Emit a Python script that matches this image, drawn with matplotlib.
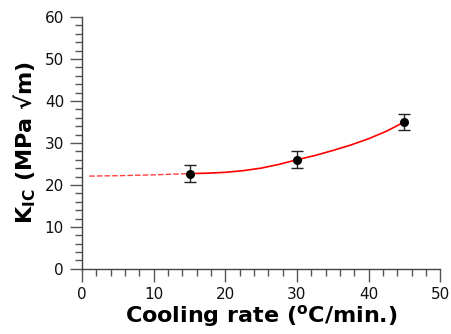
import numpy as np
import matplotlib.pyplot as plt

# measured points
rate = np.array([15, 30, 45])
kic = np.array([22.7, 26.0, 35.0])
kic_err = np.array([2.0, 2.0, 2.0])

# fitted curve (dashed extrapolation + solid fit)
fit_x_dash = np.array([1, 5, 10, 15])
fit_y_dash = np.array([22.1, 22.2, 22.4, 22.7])
fit_x = np.array([15, 17.5, 20, 22.5, 25, 27.5, 30, 32.5, 35, 37.5, 40, 42.5, 45])
fit_y = np.array([22.7, 22.8, 23.0, 23.4, 24.0, 24.9, 26.0, 27.0, 28.2, 29.5, 31.0, 32.8, 35.0])

fig = plt.figure(figsize=(4.51, 3.34), dpi=100)
ax = fig.add_axes([0.182, 0.195, 0.794, 0.754])

ax.plot(fit_x_dash, fit_y_dash, color='red', alpha=0.75, lw=1.0, ls=(0, (4, 1.5)))
ax.plot(fit_x, fit_y, color='red', lw=1.2)
ax.errorbar(rate, kic, yerr=kic_err, fmt='o', color='black', ms=5.5,
            ecolor='#222222', elinewidth=1.0, capsize=4, capthick=1.0, zorder=3)

ax.set_xlim(0, 50)
ax.set_ylim(0, 60)
ax.set_xticks(np.arange(0, 51, 10))
ax.set_yticks(np.arange(0, 61, 10))
ax.set_xticks(np.arange(0, 51, 2), minor=True)
ax.set_yticks(np.arange(0, 61, 2), minor=True)

for s in ['top', 'right']:
    ax.spines[s].set_visible(False)
for s in ['left', 'bottom']:
    ax.spines[s].set_color('#444444')
    ax.spines[s].set_linewidth(1.0)

ax.tick_params(which='major', length=9, width=1.0, color='#555555',
               labelsize=11, labelcolor='#111111', pad=4)
ax.tick_params(which='minor', length=5, width=1.0, color='#555555')

ax.set_xlabel(r'Cooling rate ($\mathbf{^{o}}$C/min.)', fontsize=16, fontweight='bold', labelpad=1)
ax.set_ylabel(r'K$_{\mathbf{IC}}$ (MPa √m)', fontsize=16, fontweight='bold', labelpad=5)

fig.savefig('out.png', dpi=100)
